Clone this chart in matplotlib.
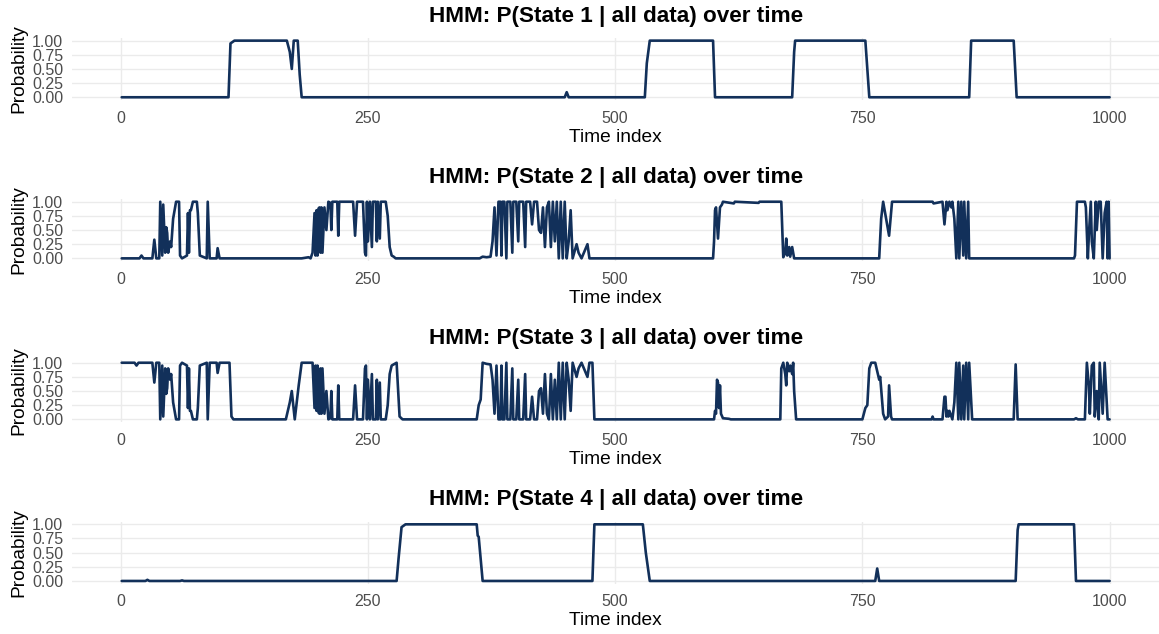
import matplotlib
matplotlib.use("Agg")
import matplotlib.pyplot as plt

# ---------------- data (time index, posterior probability) ----------------
s1_t = [1, 109, 111, 115, 168, 171, 173, 175, 179, 181, 183, 449, 451, 453,
        530, 532, 535, 599, 601, 679, 681, 682, 753, 754, 757, 858, 860, 903, 906, 1000]
s1_p = [0, 0, 0.95, 1, 1, 0.8, 0.5, 1, 1, 0.4, 0, 0, 0.09, 0,
        0, 0.6, 1, 1, 0, 0, 0.8, 1, 1, 0.75, 0, 0, 1, 1, 0, 0]

s2_t = [1, 19, 21, 23, 32, 34, 36, 39, 40, 42, 43, 45, 46, 47, 48, 50, 51, 53, 55, 56,
        59, 60, 62, 67, 68, 69, 70, 71, 73, 77, 78, 80, 87, 88, 90, 97, 98, 100,
        183, 190, 192, 194, 196, 197, 198, 199, 200, 201, 202, 203, 204, 206, 208, 210,
        212, 213, 214, 219, 220, 221, 235, 237, 239, 245, 247, 248, 249, 250, 252, 254,
        255, 258, 259, 260, 262, 263, 268, 270, 272, 274, 276, 278,
        363, 366, 370, 374, 376, 378, 380, 382, 384, 385, 386, 388, 390, 391, 394, 396,
        397, 400, 402, 403, 407, 409, 410, 414, 416, 418, 421, 423, 425, 427, 429, 431,
        433, 435, 437, 439, 441, 443, 445, 447, 449, 451, 453, 455, 457, 461, 463, 466,
        472, 474,
        599, 600, 601, 602, 604, 606, 608, 609, 620, 621, 645, 646, 668, 670, 672, 673,
        674, 676, 677, 679, 681,
        767, 769, 771, 777, 780, 821, 822, 831, 833, 835, 836, 838, 840, 841, 843, 845,
        847, 848, 850, 852, 853, 855, 857, 858,
        964, 965, 967, 975, 976, 978, 979, 981, 982, 984, 986, 987, 989, 991, 993, 995,
        997, 998, 999, 1000]
s2_p = [0, 0, 0.05, 0, 0, 0.33, 0, 0, 1.0, 0.05, 0.95, 0.1, 0.55, 0.45, 0.1, 0.3, 0.2, 0.7, 0.9, 1.0,
        1.0, 0.05, 0, 0.05, 0.8, 0.1, 0.85, 0.85, 1.0, 1.0, 0.8, 0.05, 0, 1.0, 0, 0, 0.18, 0,
        0, 0.02, 0, 0.1, 0.8, 0.05, 0.85, 0.05, 0.88, 0.9, 0.1, 0.9, 0.1, 0.9, 0.5, 1.0,
        0.98, 0.5, 1.0, 1.0, 0.4, 1.0, 1.0, 0.4, 1.0, 1.0, 0.1, 0.05, 1.0, 0.3, 1.0, 0.2,
        1.0, 1.0, 0.3, 1.0, 0.35, 1.0, 1.0, 0.75, 0.2, 0.05, 0.03, 0,
        0, 0.03, 0.02, 0.03, 0.3, 0.9, 0.05, 1.0, 1.0, 0.05, 1.0, 1.0, 0.0, 1.0, 1.0, 0.1,
        1.0, 1.0, 0.3, 1.0, 1.0, 0.2, 1.0, 1.0, 0.6, 1.0, 1.0, 0.5, 0.45, 0.9, 0.2, 0.9,
        1.0, 0.2, 1.0, 0.3, 1.0, 0.0, 1.0, 0.0, 1.0, 0.0, 0.3, 0.85, 0.0, 0.25, 0.1, 0.0,
        0.25, 0.0,
        0, 0.3, 0.85, 0.9, 0.35, 0.9, 0.95, 1.0, 0.97, 1.0, 0.98, 1.0, 1.0, 0.02, 0.1, 0.35,
        0.05, 0.2, 0.03, 0.2, 0.0,
        0, 0.7, 1.0, 0.4, 1.0, 1.0, 0.97, 1.0, 0.6, 1.0, 0.85, 1.0, 0.9, 1.0, 0.7, 0.0,
        1.0, 0.0, 1.0, 0.05, 1.0, 0.0, 1.0, 0.0,
        0, 0.05, 1.0, 1.0, 0.9, 0.0, 0.4, 1.0, 0.3, 0.0, 1.0, 0.5, 1.0, 1.0, 0.0, 0.8,
        1.0, 0.0, 1.0, 0.0]

s3_t = [1, 14, 16, 18, 32, 34, 36, 39, 40, 42, 43, 45, 46, 47, 48, 50, 51, 53, 55, 56,
        59, 60, 62, 67, 68, 69, 70, 71, 73, 77, 78, 80, 87, 88, 90, 97, 98, 100, 110, 112, 114,
        167, 171, 173, 176, 178, 180, 183, 194, 196, 197, 198, 199, 200, 201, 202, 203, 204,
        206, 208, 210, 212, 213, 214, 219, 220, 221, 235, 237, 239, 245, 247, 248, 249, 250,
        252, 254, 255, 258, 259, 260, 262, 263, 268, 270, 272, 274, 276, 279, 282, 285,
        360, 362, 364, 366, 370, 374, 376, 378, 380, 382, 384, 385, 386, 388, 390, 391, 394,
        396, 397, 400, 402, 403, 407, 409, 410, 414, 416, 418, 421, 423, 425, 427, 429, 431,
        433, 435, 437, 439, 441, 443, 445, 447, 449, 451, 453, 455, 457, 461, 463, 466,
        472, 474, 477, 479,
        600, 601, 602, 603, 604, 605, 606, 607, 609, 615, 617, 667, 668, 670, 672, 673, 674,
        676, 677, 679, 680, 681, 683,
        750, 753, 755, 757, 759, 763, 765, 767, 768, 771, 773, 776, 777, 779, 780, 820, 821,
        822, 831, 833, 834, 835, 836, 837, 838, 840, 841, 843, 845, 847, 848, 850, 852, 853,
        855, 857, 858, 861, 903, 905, 907,
        964, 966, 968, 975, 977, 979, 980, 982, 984, 985, 987, 989, 990, 993, 995, 998, 1000]
s3_p = [1, 1, 0.95, 1, 1, 0.65, 1, 1, 0.0, 0.95, 0.05, 0.9, 0.45, 0.55, 0.9, 0.7, 0.8, 0.3, 0.1, 0.0,
        0.0, 0.95, 1.0, 0.95, 0.2, 0.9, 0.15, 0.15, 0.0, 0.0, 0.2, 0.95, 1.0, 0.0, 1.0, 1.0, 0.82, 1.0, 1.0, 0.05, 0,
        0, 0.3, 0.5, 0, 0.3, 0.6, 1.0, 1.0, 0.2, 0.95, 0.15, 0.95, 0.12, 0.1, 0.9, 0.1, 0.9,
        0.1, 0.5, 0.0, 0.02, 0.5, 0.0, 0.0, 0.6, 0.0, 0.0, 0.6, 0.0, 0.0, 0.9, 0.95, 0.0, 0.7,
        0.0, 0.8, 0.0, 0.0, 0.7, 0.0, 0.65, 0.0, 0.0, 0.25, 0.8, 0.95, 0.97, 1.0, 0.05, 0.0,
        0.0, 0.25, 0.35, 1.0, 0.98, 0.97, 0.7, 0.1, 0.95, 0.0, 0.0, 0.95, 0.0, 0.0, 1.0, 0.0, 0.0,
        0.9, 0.0, 0.0, 0.7, 0.0, 0.0, 0.8, 0.0, 0.0, 0.4, 0.0, 0.0, 0.5, 0.55, 0.1, 0.8, 0.1,
        0.0, 0.8, 0.0, 0.7, 0.0, 1.0, 0.0, 1.0, 0.0, 1.0, 0.7, 0.15, 1.0, 0.75, 0.9, 1.0,
        0.75, 1.0, 1.0, 0.0,
        0, 0.15, 0.1, 0.7, 0.65, 0.2, 0.6, 0.1, 0.02, 0.01, 0.0, 0.0, 0.9, 1.0, 0.8, 0.6, 1.0,
        0.85, 0.95, 0.8, 1.0, 0.5, 0.0,
        0.0, 0.2, 0.25, 0.9, 1.0, 1.0, 0.85, 0.7, 0.75, 0.1, 0.0, 0.05, 0.6, 0.05, 0.0, 0.0, 0.05,
        0.0, 0.0, 0.4, 0.4, 0.05, 0.15, 0.05, 0.15, 0.05, 0.0, 0.3, 1.0, 0.0, 1.0, 0.0, 0.95, 0.0,
        1.0, 0.0, 1.0, 0.0, 0.0, 0.97, 0.0,
        0.0, 0.02, 0.0, 0.0, 1.0, 0.6, 0.1, 0.95, 1.0, 0.05, 0.5, 0.0, 1.0, 0.1, 1.0, 0.0, 0.0]

s4_t = [1, 25, 27, 29, 60, 62, 64, 279, 281, 284, 288, 360, 361, 362, 366, 477, 479,
        528, 531, 535, 763, 765, 767, 905, 907, 908, 964, 966, 1000]
s4_p = [0, 0, 0.02, 0, 0, 0.01, 0, 0, 0.4, 0.95, 1, 1, 0.8, 0.78, 0, 0, 1,
        1, 0.5, 0, 0, 0.22, 0, 0, 0.9, 1, 1, 0, 0]

series = [(s1_t, s1_p), (s2_t, s2_p), (s3_t, s3_p), (s4_t, s4_p)]
titles = ["HMM: P(State %d | all data) over time" % k for k in (1, 2, 3, 4)]
x_ticks = [0, 250, 500, 750, 1000]
y_ticks = [0.0, 0.25, 0.5, 0.75, 1.0]
y_labels = ["0.00", "0.25", "0.50", "0.75", "1.00"]

# ---------------- figure ----------------
W, H = 1159, 634
fig = plt.figure(figsize=(W / 100, H / 100), dpi=100)
plt.rcParams['font.family'] = ['Liberation Sans', 'DejaVu Sans']

line_color = '#12305a'
grid_color = '#EBEBEB'
panel_tops = [37.8, 198.9, 359.9, 521.5]
panel_h = 62.3
left_px, right_px = 72.3, 1159.0

for i, ((t, p), title) in enumerate(zip(series, titles)):
    top = panel_tops[i]
    ax = fig.add_axes([left_px / W, 1 - (top + panel_h) / H,
                       (right_px - left_px) / W, panel_h / H])
    ax.plot(t, p, color=line_color, lw=1.9, solid_joinstyle='round',
            solid_capstyle='round', zorder=3)
    ax.set_xlim(-48.95, 1049.95)
    ax.set_ylim(-0.05, 1.05)
    ax.set_xticks(x_ticks)
    ax.set_xticklabels([str(v) for v in x_ticks])
    ax.set_yticks(y_ticks)
    ax.set_yticklabels(y_labels)
    for s in ax.spines.values():
        s.set_visible(False)
    ax.grid(True, color=grid_color, lw=1.0, zorder=0)
    ax.set_axisbelow(True)
    ax.tick_params(axis='both', length=0, labelsize=11.5, labelcolor='#4D4D4D')
    ax.tick_params(axis='x', pad=7.6)
    ax.tick_params(axis='y', pad=6.6)
    # title, x label, y label
    fig.text(615.8 / W, 1 - (top - 16.1) / H, title, ha='center', va='baseline',
             fontsize=16.2, fontweight='bold', color='black')
    fig.text(615.8 / W, 1 - (top + panel_h + 41.6) / H, "Time index", ha='center',
             va='baseline', fontsize=13.8, color='black')
    fig.text(18.5 / W, 1 - (top + panel_h / 2) / H, "Probability", ha='center',
             va='center', rotation=90, fontsize=13.8, color='black')

fig.savefig("out.png", dpi=100, facecolor='white')
